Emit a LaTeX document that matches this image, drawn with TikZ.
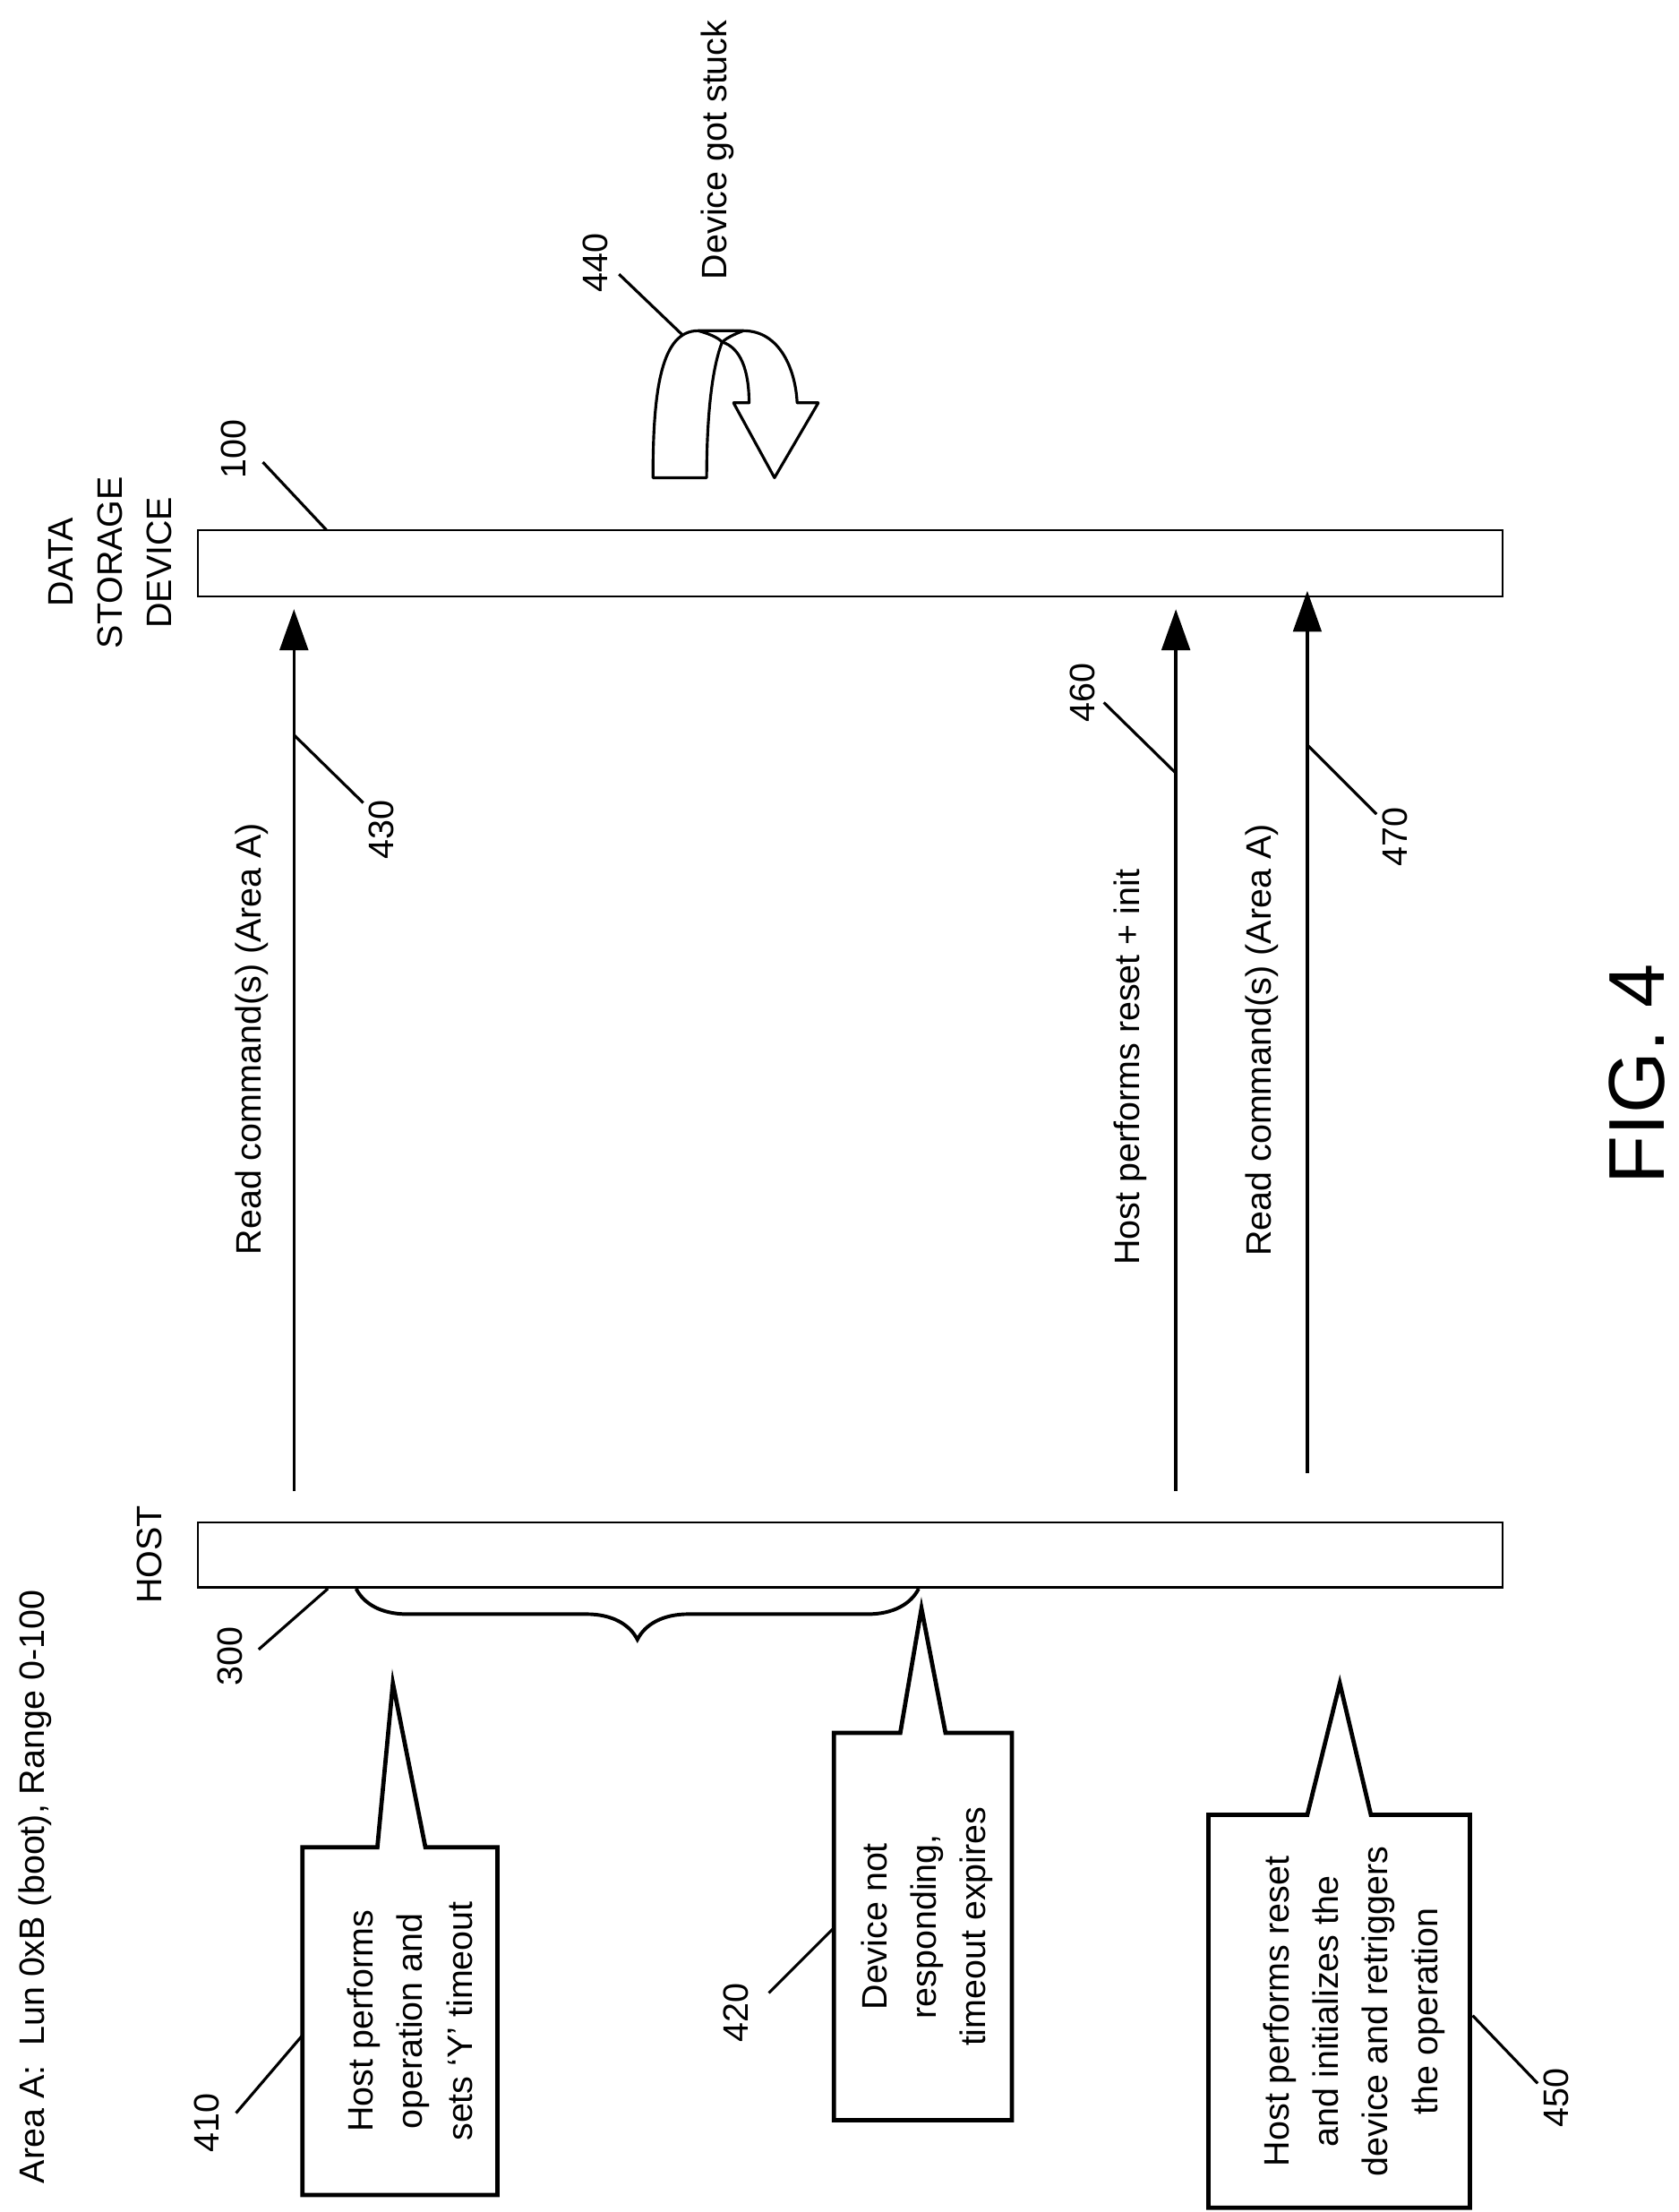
\documentclass[tikz,border=0pt]{standalone}
\usepackage{fontspec}
\setmainfont{Liberation Sans}
\usetikzlibrary{arrows.meta,decorations.pathreplacing}
\begin{document}
\begin{tikzpicture}[x=1pt,y=-1pt,
  txt/.style={rotate=90,font=\fontsize{25}{35}\selectfont,inner sep=0pt},
  bar/.style={draw,line width=1.5pt,fill=white},
  call/.style={draw,line width=3pt,fill=white,line join=miter},
  lead/.style={line width=2pt},
  arr/.style={line width=2.2pt,-{Triangle[length=29pt,width=20pt]}}]
\useasboundingbox (0,0) rectangle (1188,1565);
% bars
\node[bar,minimum width=923pt,minimum height=47pt,inner sep=0pt] (dev) at (601.5,398.5) {};
\node[bar,minimum width=923pt,minimum height=46pt,inner sep=0pt] (host) at (601.5,1100) {};
\node[txt,align=center] (devl) at (78,398) {DATA\\STORAGE\\DEVICE};
\node[txt] (hostl) at (106,1100) {HOST};
\node[txt] (area) at (25,1335) {Area A:\ \ Lun 0xB (boot), Range 0-100};
% arrows
\coordinate (a1s) at (208,1055); \coordinate (a1e) at (208,431);
\coordinate (a2s) at (832,1055); \coordinate (a2e) at (832,431);
\coordinate (a3s) at (925,1042); \coordinate (a3e) at (925,418);
\draw[arr] (a1s) -- (a1e);
\draw[arr] (a2s) -- (a2e);
\draw[arr] (a3s) -- (a3e);
\node[txt] (l430t) at (178,735) {Read command(s) (Area A)};
\node[txt] (l460t) at (800,755) {Host performs reset + init};
\node[txt] (l470t) at (893,736) {Read command(s) (Area A)};
% reference numerals
\node[txt] (n100) at (165,318) {100};
\coordinate (c100a) at (186,327); \coordinate (c100b) at (231,375);
\draw[lead] (c100a) -- (c100b);
\node[txt] (n430) at (270,587) {430};
\coordinate (c430a) at (208,520); \coordinate (c430b) at (257,568);
\draw[lead] (c430a) -- (c430b);
\node[txt] (n460) at (766,490) {460};
\coordinate (c460a) at (781,497); \coordinate (c460b) at (832,547);
\draw[lead] (c460a) -- (c460b);
\node[txt] (n470) at (987,592) {470};
\coordinate (c470a) at (925,527); \coordinate (c470b) at (974,576);
\draw[lead] (c470a) -- (c470b);
\node[txt] (n300) at (163,1172) {300};
\coordinate (c300a) at (183,1167); \coordinate (c300b) at (232,1124);
\draw[lead] (c300a) -- (c300b);
\node[txt] (n440) at (421,186) {440};
\coordinate (c440a) at (438,194); \coordinate (c440b) at (485,239);
\draw[lead] (c440a) -- (c440b);
\node[txt] (stuck) at (508,106) {Device got stuck};
% U-turn arrow 440
\draw[line width=2pt,fill=white,line join=round] (462,338) .. controls (462,275) and (468,234) .. (494,234) -- (526,234)
  .. controls (552,234) and (563,262) .. (564,285) -- (579,285) -- (548,338) -- (519,285) -- (530,285)
  .. controls (530,262) and (524,246) .. (511,242) .. controls (503,262) and (500,300) .. (500,338) -- cycle;
\draw[line width=2pt] (494,234) .. controls (505,237) and (509,240) .. (511,242);
\draw[line width=2pt] (526,234) .. controls (518,237) and (513,240) .. (511,242);
% brace
\draw[line width=2.5pt,decorate,decoration={brace,amplitude=36pt,aspect=0.5}] (650,1124) -- (252,1124);
% callouts
\draw[call] (214,1307) -- (267,1307) -- (278,1191) -- (301,1307) -- (352,1307) -- (352,1553) -- (214,1553) -- cycle;
\node[txt,align=center] (t410) at (290,1430) {Host performs\\operation and\\sets `Y' timeout};
\node[txt] (n410) at (146,1502) {410};
\coordinate (c410a) at (167,1495); \coordinate (c410b) at (214,1440);
\draw[lead] (c410a) -- (c410b);
\draw[call] (590,1226) -- (637,1226) -- (652,1138) -- (669,1226) -- (716,1226) -- (716,1500) -- (590,1500) -- cycle;
\node[txt,align=center] (t420) at (656,1363) {Device not\\responding,\\timeout expires};
\node[txt] (n420) at (521,1424) {420};
\coordinate (c420a) at (544,1410); \coordinate (c420b) at (590,1364);
\draw[lead] (c420a) -- (c420b);
\draw[call] (855,1284) -- (925,1284) -- (948,1191) -- (970,1284) -- (1040,1284) -- (1040,1562) -- (855,1562) -- cycle;
\node[txt,align=center] (t450) at (958,1423) {Host performs reset\\and initializes the\\device and retriggers\\the operation};
\node[txt] (n450) at (1101,1484) {450};
\coordinate (c450a) at (1088,1474); \coordinate (c450b) at (1042,1426);
\draw[lead] (c450a) -- (c450b);
% figure label
\node[rotate=90,font=\fontsize{56}{60}\selectfont,inner sep=0pt] (fig) at (1158,760) {FIG. 4};
\end{tikzpicture}
\end{document}
